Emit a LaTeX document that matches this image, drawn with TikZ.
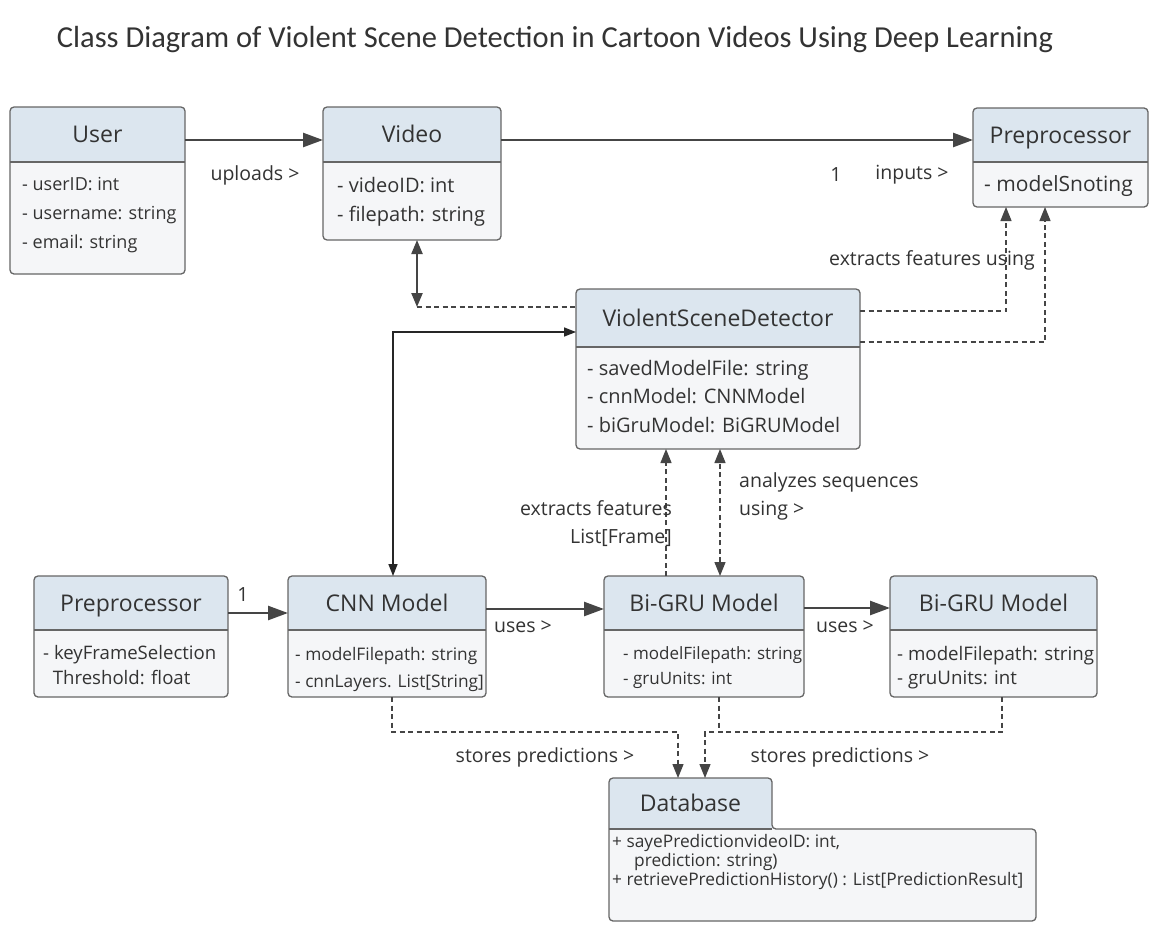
\documentclass[tikz,border=0pt]{standalone}
\usepackage{fontspec}
\setmainfont{Open Sans}
\newfontfamily\headingfont{Carlito}
\usetikzlibrary{arrows.meta,calc}

\definecolor{headfill}{HTML}{DCE6EF}
\definecolor{bodyfill}{HTML}{F5F6F8}
\definecolor{edgegray}{HTML}{666666}
\definecolor{linegray}{HTML}{454545}
\definecolor{inkgray}{HTML}{333333}

\tikzset{
  classframe/.style={draw=edgegray, line width=1.3pt, fill=bodyfill, rounded corners=4pt,
    inner sep=0pt, outer sep=0pt, anchor=north west},
  classname/.style={font=\fontsize{23}{26}\selectfont, text=inkgray, inner sep=0pt,
    text height=16.5pt, text depth=0pt},
  members/.style={text=inkgray, align=left, inner sep=0pt, anchor=north west},
  lbl/.style={font=\fontsize{19.5}{28}\selectfont, text=inkgray, inner sep=0pt},
  bigtip/.tip={Triangle[length=20pt,width=14pt]},
  smalltip/.tip={Triangle[length=14pt,width=11pt]},
  assoc/.style={draw=linegray, line width=2.5pt, -bigtip},
  twoway/.style={draw=linegray, line width=2.2pt, smalltip-smalltip},
  thinlink/.style={draw=black!85, line width=1.5pt, {Triangle[length=12pt,width=9pt]}-{Triangle[length=12pt,width=9pt]}},
  dep/.style={draw=linegray, line width=1.3pt, dash pattern=on 5pt off 3.5pt, -smalltip},
}

% one UML class: name, left, top, right, bottom, header height, class name
\newcommand{\classbox}[7]{%
  \node[classframe, minimum width={#4pt-#2pt}, minimum height={#5pt-#3pt},
    path picture={
      \fill[headfill, sharp corners] (path picture bounding box.north west)
        rectangle ([yshift=-#6pt]path picture bounding box.north east);
      \draw[edgegray, line width=1.3pt, sharp corners]
        ([yshift=-#6pt]path picture bounding box.north west) --
        ([yshift=-#6pt]path picture bounding box.north east);
    }] (#1) at (#2,#3) {};
  \node[classname] (#1-name) at ([yshift=-#6pt/2]#1.north) {#7};
}

\begin{document}
\begin{tikzpicture}[x=1pt, y=-1pt]
\useasboundingbox (0,0) rectangle (1158,926);
\fill[white] (0,0) rectangle (1158,926);

% title
\node[font=\headingfont\fontsize{30.5}{36}\selectfont, text=inkgray, inner sep=0pt] (title) at (555,40)
  {Class Diagram of Violent Scene Detection in Cartoon Videos Using Deep Learning};

% classes
\classbox{user}{10}{107}{185}{274}{55}{User}
\node[members, font=\fontsize{18}{29}\selectfont] (user-attrs) at ($(user.north west)+(12,70.5)$)
  {- userID: int\\- username: string\\- email: string};

\classbox{video}{323}{107}{501}{240}{55}{Video}
\node[members, font=\fontsize{20}{29}\selectfont] (video-attrs) at ($(video.north west)+(14,70)$)
  {- videoID: int\\- filepath: string};

\classbox{prepA}{973}{108}{1148}{207}{54}{Preprocessor}
\node[members, font=\fontsize{21}{29}\selectfont] (prepA-attrs) at ($(prepA.north west)+(11,67.5)$)
  {- modelSnoting};

\classbox{vsd}{576}{289}{860}{449}{58}{ViolentSceneDetector}
\node[members, font=\fontsize{20}{28.5}\selectfont] (vsd-attrs) at ($(vsd.north west)+(11,71)$)
  {- savedModelFile: string\\- cnnModel: CNNModel\\- biGruModel: BiGRUModel};

\classbox{prepB}{34}{576}{228}{697}{54}{Preprocessor}
\node[members, font=\fontsize{18.6}{25}\selectfont] (prepB-attrs) at ($(prepB.north west)+(9,69.5)$)
  {- keyFrameSelection\\\ \ Threshold: float};

\classbox{cnn}{288}{576}{486}{697}{54}{CNN Model}
\node[members, font=\fontsize{17.3}{27}\selectfont] (cnn-attrs) at ($(cnn.north west)+(7,71)$)
  {- modelFilepath: string\\- cnnLayers. List[String]};

\classbox{bgruA}{604}{576}{804}{697}{54}{Bi-GRU Model}
\node[members, font=\fontsize{17}{25}\selectfont] (bgruA-attrs) at ($(bgruA.north west)+(19,70.5)$)
  {- modelFilepath: string\\- gruUnits: int};

\classbox{bgruB}{890}{576}{1097}{697}{54}{Bi-GRU Model}
\node[members, font=\fontsize{18.7}{24}\selectfont] (bgruB-attrs) at ($(bgruB.north west)+(7,70.5)$)
  {- modelFilepath: string\\- gruUnits: int};

% database: narrow header tab on a wide body
\node[inner sep=0pt, outer sep=0pt, minimum width=163pt, minimum height=51pt, anchor=north west] (db) at (609,778) {};
\node[inner sep=0pt, outer sep=0pt, minimum width=427pt, minimum height=92pt, anchor=north west] (db-body) at (609,829) {};
\draw[draw=edgegray, line width=1.3pt, fill=bodyfill, rounded corners=4pt,
  path picture={\fill[headfill, sharp corners] (db.north west) rectangle (db.south east);}]
  (db-body.west) -- (db-body.south west) -- (db-body.south east) -- (db-body.north east)
  -- (db.south east) -- (db.north east) -- (db.north west) -- cycle;
\draw[edgegray, line width=1.3pt] (db.south west) -- (db.south east);
\node[classname] (db-name) at (db.center) {Database};
\node[members, font=\fontsize{17.3}{19}\selectfont] (db-ops) at ($(db-body.north west)+(3,5)$)
  {+ sayePredictionvideoID: int,\\\hspace*{22pt}prediction: string)\\+ retrievePredictionHistory() : List[PredictionResult]};

% associations along the top
\draw[assoc] ($(user.north east)+(0,33)$) -- ($(video.north west)+(0,33)$);
\node[lbl] (lbl-uploads) at (255,175) {uploads >};
\draw[assoc] ($(video.north east)+(0,33)$) coordinate (vp) -- (vp -| prepA.west);
\node[lbl] (lbl-one-a) at (836,175) {1};
\node[lbl] (lbl-inputs) at (912,175) {inputs >};

% video <-> detector
\coordinate (vbend) at ($(video.south)+(5,67)$);
\draw[twoway] ([xshift=5pt]video.south) -- (vbend);
\draw[dep, -] (vbend) -- (vbend -| vsd.west);

% detector <-> CNN
\draw[thinlink] ($(vsd.north west)+(0,43)$) -| ([xshift=6pt]cnn.north);

% detector -> preprocessor
\draw[dep] ($(vsd.north east)+(0,22)$) -| ($(prepA.south)+(-54.5,0)$);
\draw[dep] ($(vsd.north east)+(0,53)$) -| ($(prepA.south)+(-15.5,0)$);
\node[lbl] (lbl-extract-top) at (932,260) {extracts features using};

% Bi-GRU -> detector
\draw[dep] ($(bgruA.north)+(-38,0)$) coordinate (e1) -- (e1 |- vsd.south);
\draw[dep, smalltip-smalltip] ($(bgruA.north)+(16,0)$) coordinate (e2) -- (e2 |- vsd.south);
\node[lbl, align=right, anchor=east] (lbl-extract-mid) at (672,524) {extracts features\\List[Frame]};
\node[lbl, align=left, anchor=west] (lbl-analyzes) at (739,496) {analyzes sequences\\using >};

% bottom row
\draw[assoc] ($(prepB.north east)+(0,37)$) coordinate (pc) -- (pc -| cnn.west);
\node[lbl] (lbl-one-b) at (243,595) {1};
\draw[assoc] ($(cnn.north east)+(0,33)$) coordinate (cb) -- (cb -| bgruA.west);
\node[lbl] (lbl-uses-a) at (523,627) {uses >};
\draw[assoc] ($(bgruA.north east)+(0,32)$) coordinate (bb) -- (bb -| bgruB.west);
\node[lbl] (lbl-uses-b) at (845,627) {uses >};

% storing predictions
\draw[dep] ($(cnn.south)+(5,0)$) |- ($(db.north)+(-12.5,-46)$) -- ($(db.north)+(-12.5,0)$);
\draw[dep] ($(bgruB.south)+(8.5,0)$) |- ($(db.north)+(14.5,-46)$) -- ($(db.north)+(14.5,0)$);
\draw[dep, -] ($(bgruA.south)+(15,0)$) -- ++(0,35);
\node[lbl] (lbl-stores-a) at (545,757) {stores predictions >};
\node[lbl] (lbl-stores-b) at (840,757) {stores predictions >};
\end{tikzpicture}
\end{document}
